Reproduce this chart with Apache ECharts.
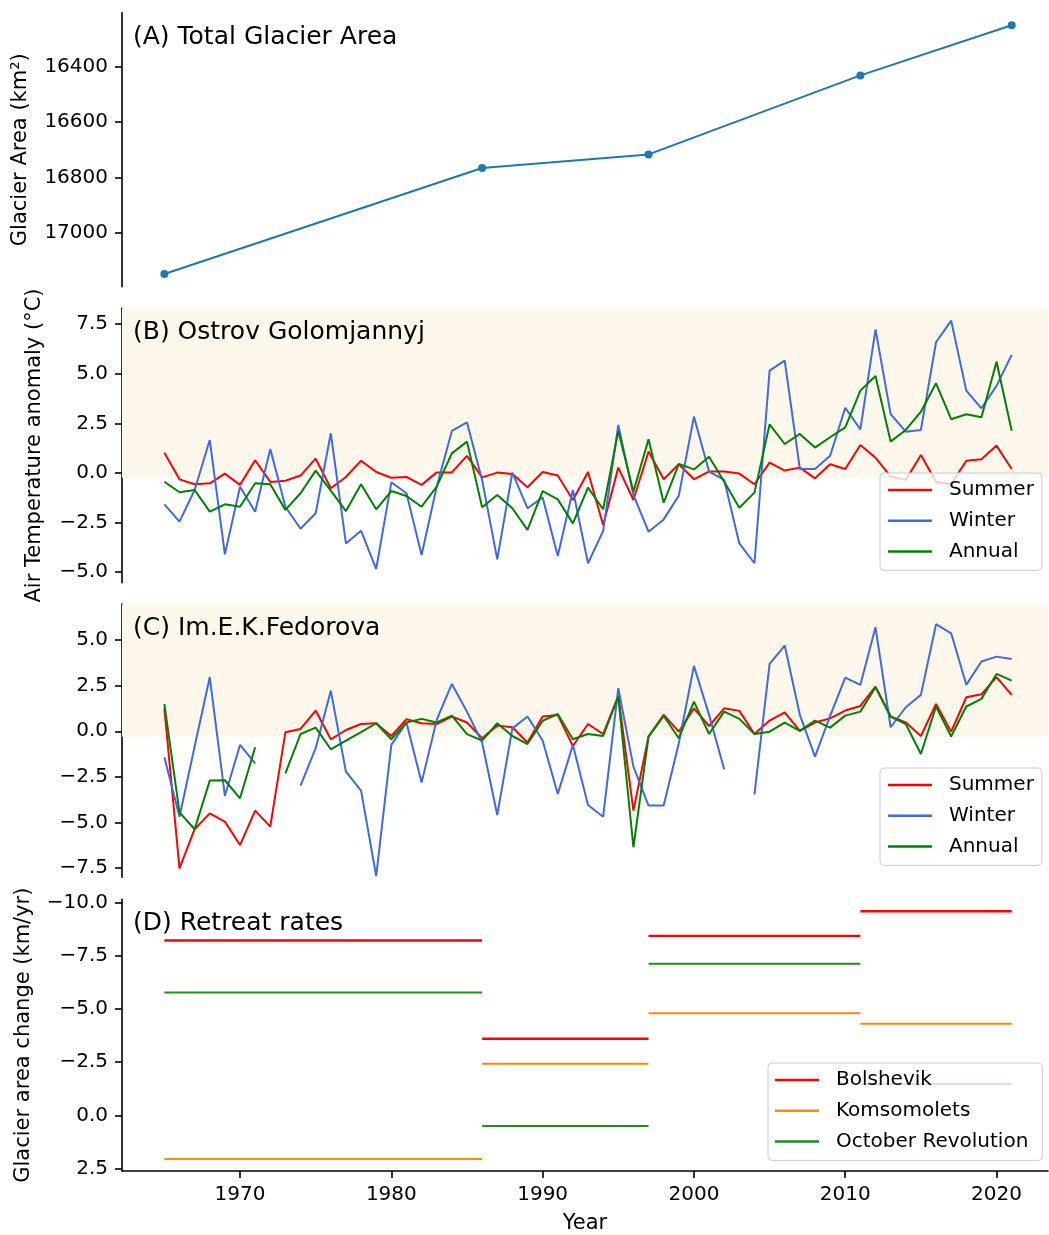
<!DOCTYPE html>
<html>
<head>
<meta charset="utf-8">
<script src="https://cdn.jsdelivr.net/npm/echarts@6/dist/echarts.min.js"></script>
<style>
  html, body { margin: 0; padding: 0; background: #fff; }
  #chart { width: 1049px; height: 1235px; }
</style>
</head>
<body>
<div id="chart"></div>
<script>
// ---- data ----
const years = Array.from({ length: 57 }, (_, i) => 1965 + i);

// (A) total glacier area, km²
const areaYears = [1965, 1986, 1997, 2011, 2021];
const areaValues = [17147, 16765, 16716, 16431, 16250];

// (B) Ostrov Golomjannyj air temperature anomaly, °C (1965–2021)
const golSummer = [
  1.02, -0.32, -0.57, -0.52, -0.03, -0.60, 0.64, -0.45, -0.39, -0.13,
  0.72, -0.77, -0.20, 0.62, 0.05, -0.24, -0.20, -0.60, 0.03, 0.03,
  0.86, -0.22, 0.02, -0.05, -0.72, 0.05, -0.13, -1.36, 0.05, -2.62,
  0.27, -1.36, 1.08, -0.32, 0.44, -0.32, 0.08, 0.07, -0.03, -0.57,
  0.52, 0.12, 0.27, -0.27, 0.44, 0.20, 1.41, 0.77, -0.18, -0.35,
  0.91, -0.44, -0.57, 0.62, 0.69, 1.38, 0.20
];
const golWinter = [
  -1.58, -2.45, -0.86, 1.66, -4.10, -0.69, -1.95, 1.21, -1.70, -2.81,
  -2.03, 2.00, -3.55, -2.91, -4.84, -0.47, -1.02, -4.13, -0.69, 2.12,
  2.55, -0.35, -4.35, 0.02, -1.78, -1.23, -4.18, -0.86, -4.55, -2.92,
  2.42, -1.11, -2.96, -2.34, -1.14, 2.84, 0.07, -0.35, -3.55, -4.55,
  5.16, 5.66, 0.20, 0.20, 0.87, 3.29, 2.20, 7.24, 2.97, 2.08,
  2.17, 6.59, 7.68, 4.15, 3.26, 4.39, 5.95
];
const golAnnual = [
  -0.44, -0.97, -0.86, -1.95, -1.58, -1.70, -0.52, -0.57, -1.86, -1.02,
  0.12, -0.89, -1.92, -0.57, -1.83, -0.91, -1.16, -1.70, -0.69, 0.99,
  1.58, -1.73, -1.11, -1.78, -2.87, -0.91, -1.33, -2.54, -0.74, -1.83,
  2.12, -0.94, 1.70, -1.50, 0.45, 0.18, 0.82, -0.44, -1.75, -0.99,
  2.45, 1.46, 1.97, 1.28, 1.80, 2.30, 4.15, 4.89, 1.58, 2.17,
  3.09, 4.52, 2.71, 2.96, 2.81, 5.61, 2.13
];

// (C) Im.E.K.Fedorova air temperature anomaly, °C (null = missing year)
const fedSummer = [
  1.26, -7.53, -5.38, -4.51, -4.96, -6.25, -4.36, -5.24, -0.05, 0.13,
  1.14, -0.44, 0.07, 0.40, 0.44, -0.26, 0.66, 0.44, 0.40, 0.81,
  0.48, -0.38, 0.31, 0.22, -0.62, 0.81, 0.90, -0.81, 0.40, -0.15,
  1.94, -4.36, -0.29, 0.90, -0.02, 1.26, 0.29, 1.26, 1.12, -0.15,
  0.59, 1.04, 0.02, 0.48, 0.71, 1.14, 1.39, 2.45, 0.81, 0.48,
  -0.26, 1.50, -0.02, 1.87, 2.03, 2.97, 2.00
];
const fedWinter = [
  -1.43, -4.69, -0.84, 2.97, -3.55, -0.75, -1.76, null, null, -2.99,
  -0.93, 2.23, -2.22, -3.26, -7.95, -0.75, 0.48, -2.82, 0.62, 2.60,
  1.08, -0.62, -4.60, 0.16, 0.81, -0.51, -3.44, -0.75, -4.05, -4.69,
  2.36, -1.94, -4.08, -4.08, -0.66, 3.59, 0.90, -2.09, null, -3.46,
  3.70, 4.71, 0.90, -1.39, 0.84, 2.95, 2.55, 5.71, 0.22, 1.32,
  2.00, 5.88, 5.38, 2.55, 3.83, 4.10, 3.97
];
const fedAnnual = [
  1.50, -4.45, -5.38, -2.71, -2.69, -3.68, -0.88, null, -2.31, -0.15,
  0.20, -0.99, -0.51, -0.05, 0.44, -0.44, 0.48, 0.68, 0.48, 0.86,
  -0.16, -0.51, 0.44, -0.26, -0.70, 0.57, 0.95, -0.44, -0.15, -0.26,
  1.90, -6.37, -0.29, 0.84, -0.38, 1.63, -0.15, 1.08, 0.68, -0.15,
  -0.02, 0.48, 0.02, 0.59, 0.20, 0.86, 1.08, 2.42, 0.81, 0.40,
  -1.25, 1.36, -0.29, 1.36, 1.78, 3.15, 2.78
];

// (D) retreat rates per period, km/yr
const periodStart = [1965, 1986, 1997, 2011];
const periodEnd = [1986, 1997, 2011, 2021];
const bolshevik = [-8.22, -3.60, -8.44, -9.60];
const komsomolets = [2.06, -2.43, -4.80, -4.31];
const octoberRevolution = [-5.78, 0.50, -7.13, -1.47];

// tick values
const xTicks = [1970, 1980, 1990, 2000, 2010, 2020];
const areaTicks = [16400, 16600, 16800, 17000];
const golTicks = [-5, -2.5, 0, 2.5, 5, 7.5];
const fedTicks = [-7.5, -5, -2.5, 0, 2.5, 5];
const rateTicks = [-10, -7.5, -5, -2.5, 0, 2.5];

// ---- layout & style ----
const FONT = 'DejaVu Sans';
const X_MIN = 1962.2, X_MAX = 2023.4;
const LEFT = 122, WIDTH = 926;
const panels = [
  { top: 12.7, height: 274 },
  { top: 308.3, height: 274.4 },
  { top: 604, height: 273.3 },
  { top: 899.3, height: 272.7 }
];
const SHADE = '#fdf7ec';

const fmt1 = v => v.toFixed(1).replace('-', '\u2212');
const axisLine = { show: true, onZero: false, lineStyle: { color: '#000', width: 1.6 } };
const tickStyle = vals => ({ show: true, length: 7, customValues: vals, lineStyle: { color: '#000', width: 1.6 } });
const labelStyle = (vals, formatter) => ({
  show: true, customValues: vals, formatter, margin: 14,
  fontSize: 20, fontFamily: FONT, color: '#000'
});
const nameFont = { fontSize: 21, fontFamily: FONT, color: '#000' };

const pairs = (xs, ys) => xs.map((x, i) => [x, ys[i] === null ? '-' : ys[i]]);
const steps = vals => {
  const out = [];
  vals.forEach((v, i) => {
    out.push([periodStart[i], v], [periodEnd[i], v], [periodEnd[i], '-']);
  });
  return out;
};

const grid = panels.map(p => ({ left: LEFT, width: WIDTH, top: p.top, height: p.height, containLabel: false }));

const xAxis = panels.map((p, i) => {
  const last = i === panels.length - 1;
  return {
    type: 'value', gridIndex: i, min: X_MIN, max: X_MAX,
    axisLine: last ? axisLine : { show: false },
    axisTick: last ? tickStyle(xTicks) : { show: false },
    axisLabel: last ? labelStyle(xTicks, v => String(v)) : { show: false },
    splitLine: { show: false },
    name: last ? 'Year' : '',
    nameLocation: 'middle', nameGap: 42,
    nameTextStyle: nameFont
  };
});

const yName = (text, gap) => ({
  name: text, nameLocation: 'middle', nameRotate: 90, nameGap: gap,
  nameTextStyle: nameFont
});

const yAxis = [
  Object.assign({
    type: 'value', gridIndex: 0, inverse: true, min: 16205, max: 17193,
    axisLine, axisTick: tickStyle(areaTicks), axisLabel: labelStyle(areaTicks, v => String(v)),
    splitLine: { show: false }
  }, yName('Glacier Area (km\u00b2)', 91)),
  Object.assign({
    type: 'value', gridIndex: 1, min: -5.53, max: 8.30,
    axisLine, axisTick: tickStyle(golTicks), axisLabel: labelStyle(golTicks, fmt1),
    splitLine: { show: false }
  }, yName('Air Temperature anomaly (\u00b0C)', 77)),
  {
    type: 'value', gridIndex: 2, min: -8.02, max: 6.99,
    axisLine, axisTick: tickStyle(fedTicks), axisLabel: labelStyle(fedTicks, fmt1),
    splitLine: { show: false }
  },
  Object.assign({
    type: 'value', gridIndex: 3, inverse: true, min: -10.16, max: 2.62,
    axisLine, axisTick: tickStyle(rateTicks), axisLabel: labelStyle(rateTicks, fmt1),
    splitLine: { show: false }
  }, yName('Glacier area change (km/yr)', 88))
];

const tempLine = (name, color, data, idx) => ({
  name, type: 'line', xAxisIndex: idx, yAxisIndex: idx,
  data: pairs(years, data), showSymbol: false, symbol: 'none',
  connectNulls: false, color, lineStyle: { color, width: 2 }, z: 3
});

const warmBand = (idx, lo, hi) => ({
  type: 'line', xAxisIndex: idx, yAxisIndex: idx, data: [], silent: true, z: 1,
  markArea: {
    silent: true, itemStyle: { color: SHADE },
    data: [[{ xAxis: X_MIN, yAxis: lo }, { xAxis: X_MAX, yAxis: hi }]]
  }
});

const rateLine = (name, color, vals, width) => ({
  name, type: 'line', xAxisIndex: 3, yAxisIndex: 3,
  data: steps(vals), showSymbol: false, symbol: 'none',
  connectNulls: false, color, lineStyle: { color, width }
});

const series = [
  {
    name: 'Total Glacier Area', type: 'line', xAxisIndex: 0, yAxisIndex: 0,
    data: pairs(areaYears, areaValues), symbol: 'circle', symbolSize: 8,
    color: '#1f77b4', lineStyle: { color: '#1f77b4', width: 2 },
    itemStyle: { color: '#1f77b4' }
  },
  warmBand(1, -0.24, 8.30),
  tempLine('Summer', '#ff0000', golSummer, 1),
  tempLine('Winter', '#4169e1', golWinter, 1),
  tempLine('Annual', '#008000', golAnnual, 1),
  warmBand(2, -0.30, 6.99),
  tempLine('Summer', '#ff0000', fedSummer, 2),
  tempLine('Winter', '#4169e1', fedWinter, 2),
  tempLine('Annual', '#008000', fedAnnual, 2),
  rateLine('Bolshevik', '#ff0000', bolshevik, 2.4),
  rateLine('Komsomolets', '#ff8c00', komsomolets, 2),
  rateLine('October Revolution', '#228b22', octoberRevolution, 2)
];

const legendBase = {
  orient: 'vertical', icon: 'rect', itemWidth: 44, itemHeight: 2.5, itemGap: 10.7,
  backgroundColor: 'rgba(255,255,255,0.8)', borderColor: '#cccccc', borderWidth: 1,
  borderRadius: 4, selectedMode: false,
  textStyle: { fontSize: 20, fontFamily: FONT, color: '#000', lineHeight: 20, padding: [0, 0, 0, 12] }
};

const legend = [
  Object.assign({}, legendBase, { left: 880, top: 473, padding: [7, 8, 9, 8], data: ['Summer', 'Winter', 'Annual'] }),
  Object.assign({}, legendBase, { left: 880, top: 768, padding: [7, 8, 9, 8], data: ['Summer', 'Winter', 'Annual'] }),
  Object.assign({}, legendBase, { left: 768, top: 1063, padding: [7, 14, 9, 7], data: ['Bolshevik', 'Komsomolets', 'October Revolution'] })
];

const titles = ['(A) Total Glacier Area', '(B) Ostrov Golomjannyj', '(C) Im.E.K.Fedorova', '(D) Retreat rates'];
const title = titles.map((t, i) => ({
  text: t, left: 133, top: panels[i].top + 24.5 - 14.5, padding: 0,
  textStyle: { fontSize: 25, fontWeight: 'normal', fontFamily: FONT, color: '#000', lineHeight: 29 }
}));

const chart = echarts.init(document.getElementById('chart'), null, { renderer: 'canvas' });
chart.setOption({
  animation: false,
  backgroundColor: '#fff',
  textStyle: { fontFamily: FONT },
  title, grid, xAxis, yAxis, legend, series
});
</script>
</body>
</html>
